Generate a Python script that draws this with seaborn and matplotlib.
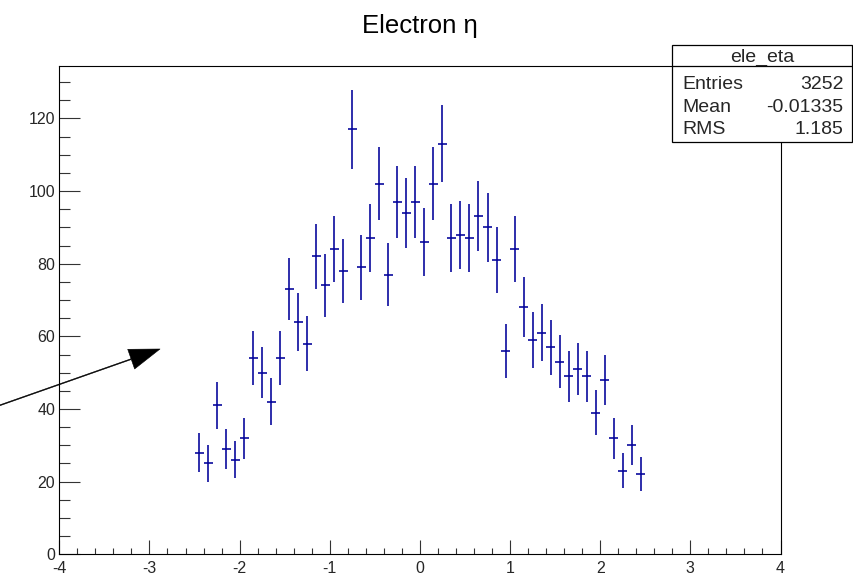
import numpy as np
import matplotlib
matplotlib.use("Agg")
import matplotlib.pyplot as plt
from matplotlib.patches import Rectangle
from matplotlib.lines import Line2D
from matplotlib.ticker import MultipleLocator
import seaborn as sns

# ---- data (histogram of electron eta, 50 bins from -2.5 to 2.5) ----
bin_lo, bin_hi, n_bins = -2.5, 2.5, 50
counts = [28, 25, 41, 29, 26, 32, 54, 50, 42, 54,
          73, 64, 58, 82, 74, 84, 78, 117, 79, 87,
          102, 77, 97, 94, 97, 86, 102, 113, 87, 88,
          87, 93, 90, 81, 56, 84, 68, 59, 61, 57,
          53, 49, 51, 49, 39, 48, 32, 23, 30, 22]
title = "Electron \u03b7"
stat_name = "ele_eta"
stat_labels = ["Entries", "Mean", "RMS"]
stat_values = ["3252", "-0.01335", "1.185"]
x_limits = (-4, 4)
y_limits = (0, 134.5)

sns.set_theme(style="ticks")
plt.rcParams['font.family'] = ['Liberation Sans', 'DejaVu Sans']
plt.rcParams['axes.unicode_minus'] = False

W, H = 854, 577
fig = plt.figure(figsize=(W / 100, H / 100), dpi=100)
ax = fig.add_axes([59.3 / W, (H - 554.3) / H, (780.5 - 59.3) / W, (554.3 - 65.7) / H])

edges = np.linspace(bin_lo, bin_hi, n_bins + 1)
centers = 0.5 * (edges[:-1] + edges[1:])
halfw = 0.5 * (edges[1] - edges[0])
y = np.array(counts, dtype=float)
ax.errorbar(centers, y, xerr=halfw, yerr=np.sqrt(y), fmt='none',
            ecolor='#000099', elinewidth=1.15, capsize=0)

ax.set_xlim(*x_limits)
ax.set_ylim(*y_limits)
ax.xaxis.set_major_locator(MultipleLocator(1))
ax.xaxis.set_minor_locator(MultipleLocator(0.2))
ax.yaxis.set_major_locator(MultipleLocator(20))
ax.yaxis.set_minor_locator(MultipleLocator(5))
ax.tick_params(axis='x', which='major', direction='in', length=10, width=0.8,
               color='#333333', labelsize=11.5, pad=5)
ax.tick_params(axis='x', which='minor', direction='in', length=4.3, width=0.8,
               color='#333333')
ax.tick_params(axis='y', which='major', direction='in', length=15, width=0.8,
               color='#333333', labelsize=11.5, pad=3)
ax.tick_params(axis='y', which='minor', direction='in', length=8, width=0.8,
               color='#333333')
ax.tick_params(top=False, right=False, which='both')
for s in ax.spines.values():
    s.set_linewidth(0.8)
    s.set_color('black')
ax.set_xlabel('')
ax.set_ylabel('')

# title
fig.text(420 / W, (H - 32.7) / H, title, ha='center', va='baseline',
         fontsize=18.5, color='black')

# stats box
bx0, bx1, by0, by1, bsep = 672, 852, 44.7, 141.7, 65.7
fig.patches.append(Rectangle((bx0 / W, (H - by1) / H), (bx1 - bx0) / W, (by1 - by0) / H,
                             transform=fig.transFigure, facecolor='white',
                             edgecolor='black', linewidth=0.9, zorder=5))
fig.lines.append(Line2D([bx0 / W, bx1 / W], [(H - bsep) / H, (H - bsep) / H],
                        transform=fig.transFigure, color='black', lw=0.9, zorder=6))
fig.text((bx0 + bx1) / 2 / W, (H - 62) / H, stat_name, ha='center', va='baseline',
         fontsize=14, zorder=7)
for i, (lab, val) in enumerate(zip(stat_labels, stat_values)):
    yb = (H - (89.3 + 22.5 * i)) / H
    fig.text(682 / W, yb, lab, ha='left', va='baseline', fontsize=14, zorder=7)
    fig.text(843.5 / W, yb, val, ha='right', va='baseline', fontsize=14, zorder=7)

# arrow
ax.annotate('', xy=(160, H - 349), xycoords='figure pixels',
            xytext=(-5, H - 407), textcoords='figure pixels',
            arrowprops=dict(width=0.6, headwidth=15, headlength=22,
                            facecolor='black', edgecolor='black', lw=0.4),
            annotation_clip=False)

fig.savefig('out.png', dpi=100)
